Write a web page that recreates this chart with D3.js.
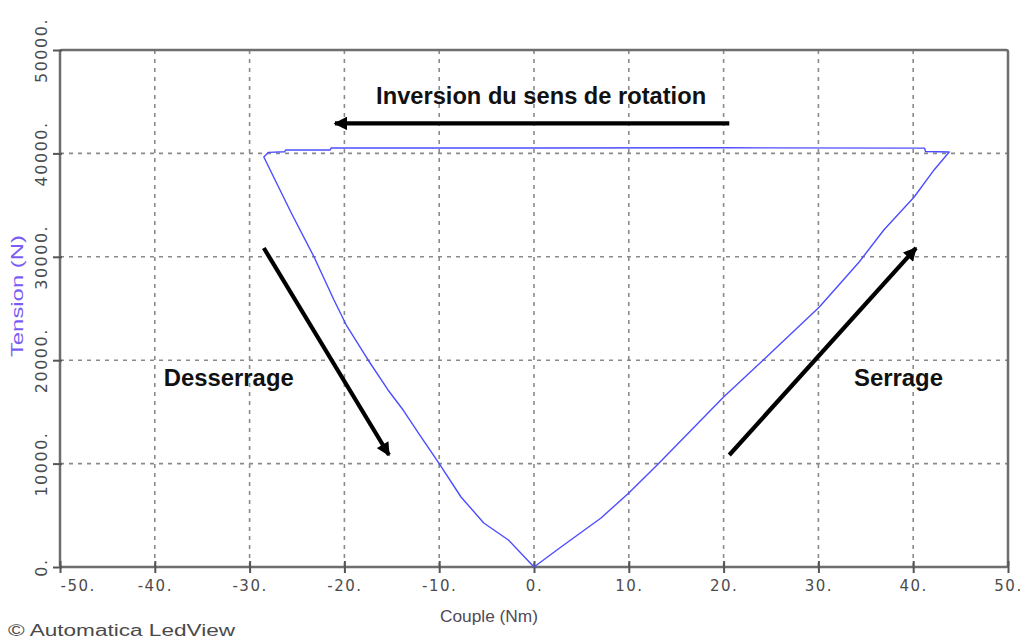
<!DOCTYPE html>
<html>
<head>
<meta charset="utf-8">
<script src="https://cdn.jsdelivr.net/npm/d3@7"></script>
<style>
  html, body { margin: 0; padding: 0; background: #fff; }
  svg { display: block; }
</style>
</head>
<body>
<svg id="chart" width="1022" height="639"></svg>
<script>
// ---- data ----
const xTicks = [-50, -40, -30, -20, -10, 0, 10, 20, 30, 40, 50];
const xTickLabels = ["-50.", "-40.", "-30.", "-20.", "-10.", "0.", "10.", "20.", "30.", "40.", "50."];
const yTicks = [0, 10000, 20000, 30000, 40000, 50000];
const yTickLabels = ["0.", "10000.", "20000.", "30000.", "40000.", "50000."];

// torque (Nm) and tension (N) along the measured cycle
const couple = [0, 2.85, 7.07, 10.0, 13.2, 20.0, 24.3, 30.1, 34.3, 36.9, 40.1, 42.2, 43.8,
  41.3, 41.2, 20.0, 0, -21.4, -21.5, -26.2, -26.3, -28.0, -28.5,
  -25.6, -23.2, -21.1, -19.8, -17.5, -15.4, -13.8, -11.9, -10.0, -7.7, -5.3, -2.7, 0];
const tension = [0, 1930, 4740, 7160, 10060, 16440, 20120, 25150, 29500, 32590, 35780, 38400, 40140,
  40180, 40510, 40540, 40520, 40520, 40330, 40330, 40160, 40100, 39650,
  34240, 29980, 25820, 23400, 20020, 17120, 15180, 12570, 10000, 6770, 4260, 2610, 0];

// annotations
const annoTexts = ["Inversion du sens de rotation", "Desserrage", "Serrage"];
const annoX = [0.75, -32.2, 38.45];
const annoY = [44780, 17500, 17500];
const annoWidths = [330, 130, 89];
const arrowFrom = [[20.6, 42900], [-28.5, 30850], [20.6, 10830]];
const arrowTo = [[-21.0, 42900], [-15.3, 10830], [40.3, 30850]];

// ---- drawing ----
const svg = d3.select("#chart");
const x = d3.scaleLinear().domain([-50, 50]).range([60, 1008]);
const y = d3.scaleLinear().domain([0, 50000]).range([567, 50]);

// grid
const grid = svg.append("g").attr("stroke", "#8a8a8a").attr("stroke-width", 1.6)
  .attr("stroke-dasharray", "4,5").attr("fill", "none");
xTicks.filter(v => v > -50 && v < 50).forEach(v => {
  grid.append("line").attr("x1", x(v)).attr("x2", x(v)).attr("y1", y(0)).attr("y2", y(50000));
});
yTicks.filter(v => v > 0 && v < 50000).forEach(v => {
  grid.append("line").attr("x1", x(-50)).attr("x2", x(50)).attr("y1", y(v)).attr("y2", y(v));
});

// frame
svg.append("rect").attr("x", x(-50)).attr("y", y(50000))
  .attr("width", x(50) - x(-50)).attr("height", y(0) - y(50000))
  .attr("rx", 2).attr("fill", "none").attr("stroke", "#6e6e6e").attr("stroke-width", 2.5);

// axes (ticks)
const xAxis = d3.axisBottom(x).tickValues(xTicks).tickSize(6).tickFormat((d, i) => xTickLabels[i]);
const gx = svg.append("g").attr("transform", `translate(0,${y(0)})`).call(xAxis);
gx.select(".domain").remove();
gx.selectAll(".tick line").attr("stroke", "#555").attr("stroke-width", 2).attr("y1", -6);
gx.selectAll(".tick text").attr("y", 13).attr("dy", "0.71em")
  .attr("fill", "#4c4c4c").attr("font-family", "DejaVu Sans").attr("font-size", 15)
  .attr("letter-spacing", 1.5)
  .attr("text-anchor", (d, i) => i === 0 ? "start" : "middle");

const yAxis = d3.axisLeft(y).tickValues(yTicks).tickSize(6).tickFormat((d, i) => yTickLabels[i]);
const gy = svg.append("g").attr("transform", `translate(${x(-50)},0)`).call(yAxis);
gy.select(".domain").remove();
gy.selectAll(".tick line").attr("stroke", "#555").attr("stroke-width", 2).attr("x2", -7).attr("x1", 2);
gy.selectAll(".tick text").attr("x", null).attr("dy", null)
  .attr("transform", "translate(-13,0) rotate(-90)")
  .attr("text-anchor", "middle")
  .attr("fill", "#4c4c4c").attr("font-family", "DejaVu Sans").attr("font-size", 16)
  .attr("letter-spacing", 1.5);

// axis titles
svg.append("text").attr("transform", `translate(23,${y(26200)}) rotate(-90)`)
  .attr("text-anchor", "middle").attr("fill", "#7b5cf5")
  .attr("font-family", "Liberation Sans, Arial, sans-serif").attr("font-size", 16)
  .attr("textLength", 122).attr("lengthAdjust", "spacingAndGlyphs")
  .text("Tension (N)");
svg.append("text").attr("x", 440).attr("y", 622)
  .attr("fill", "#4f4a55").attr("font-family", "Liberation Sans, Arial, sans-serif").attr("font-size", 16)
  .attr("textLength", 98).attr("lengthAdjust", "spacingAndGlyphs")
  .text("Couple (Nm)");
svg.append("text").attr("x", 8).attr("y", 636)
  .attr("fill", "#4a4a4a").attr("font-family", "Liberation Sans, Arial, sans-serif").attr("font-size", 16)
  .attr("textLength", 227).attr("lengthAdjust", "spacingAndGlyphs")
  .text("© Automatica LedView");

// curve
const pts = couple.map((c, i) => [c, tension[i]]);
svg.append("path").datum(pts)
  .attr("d", d3.line().x(d => x(d[0])).y(d => y(d[1])))
  .attr("fill", "none").attr("stroke", "#4d4dff").attr("stroke-width", 1.4)
  .attr("stroke-linejoin", "round");

// arrows
const defs = svg.append("defs");
defs.append("marker").attr("id", "ah").attr("viewBox", "0 0 10 10")
  .attr("refX", 9).attr("refY", 5).attr("markerWidth", 3.6).attr("markerHeight", 3.2)
  .attr("markerUnits", "strokeWidth").attr("orient", "auto")
  .append("path").attr("d", "M0,0 L10,5 L0,10 z").attr("fill", "#000");
arrowFrom.forEach((f, i) => {
  const t = arrowTo[i];
  svg.append("line").attr("x1", x(f[0])).attr("y1", y(f[1]))
    .attr("x2", x(t[0])).attr("y2", y(t[1]))
    .attr("stroke", "#000").attr("stroke-width", 4.2)
    .attr("marker-end", "url(#ah)");
});

// annotation texts
annoTexts.forEach((s, i) => {
  svg.append("text").attr("x", x(annoX[i])).attr("y", y(annoY[i]))
    .attr("text-anchor", "middle").attr("fill", "#111")
    .attr("font-family", "Liberation Sans, Arial, sans-serif").attr("font-weight", "bold")
    .attr("font-size", 23)
    .attr("textLength", annoWidths[i]).attr("lengthAdjust", "spacingAndGlyphs")
    .text(s);
});
</script>
</body>
</html>
